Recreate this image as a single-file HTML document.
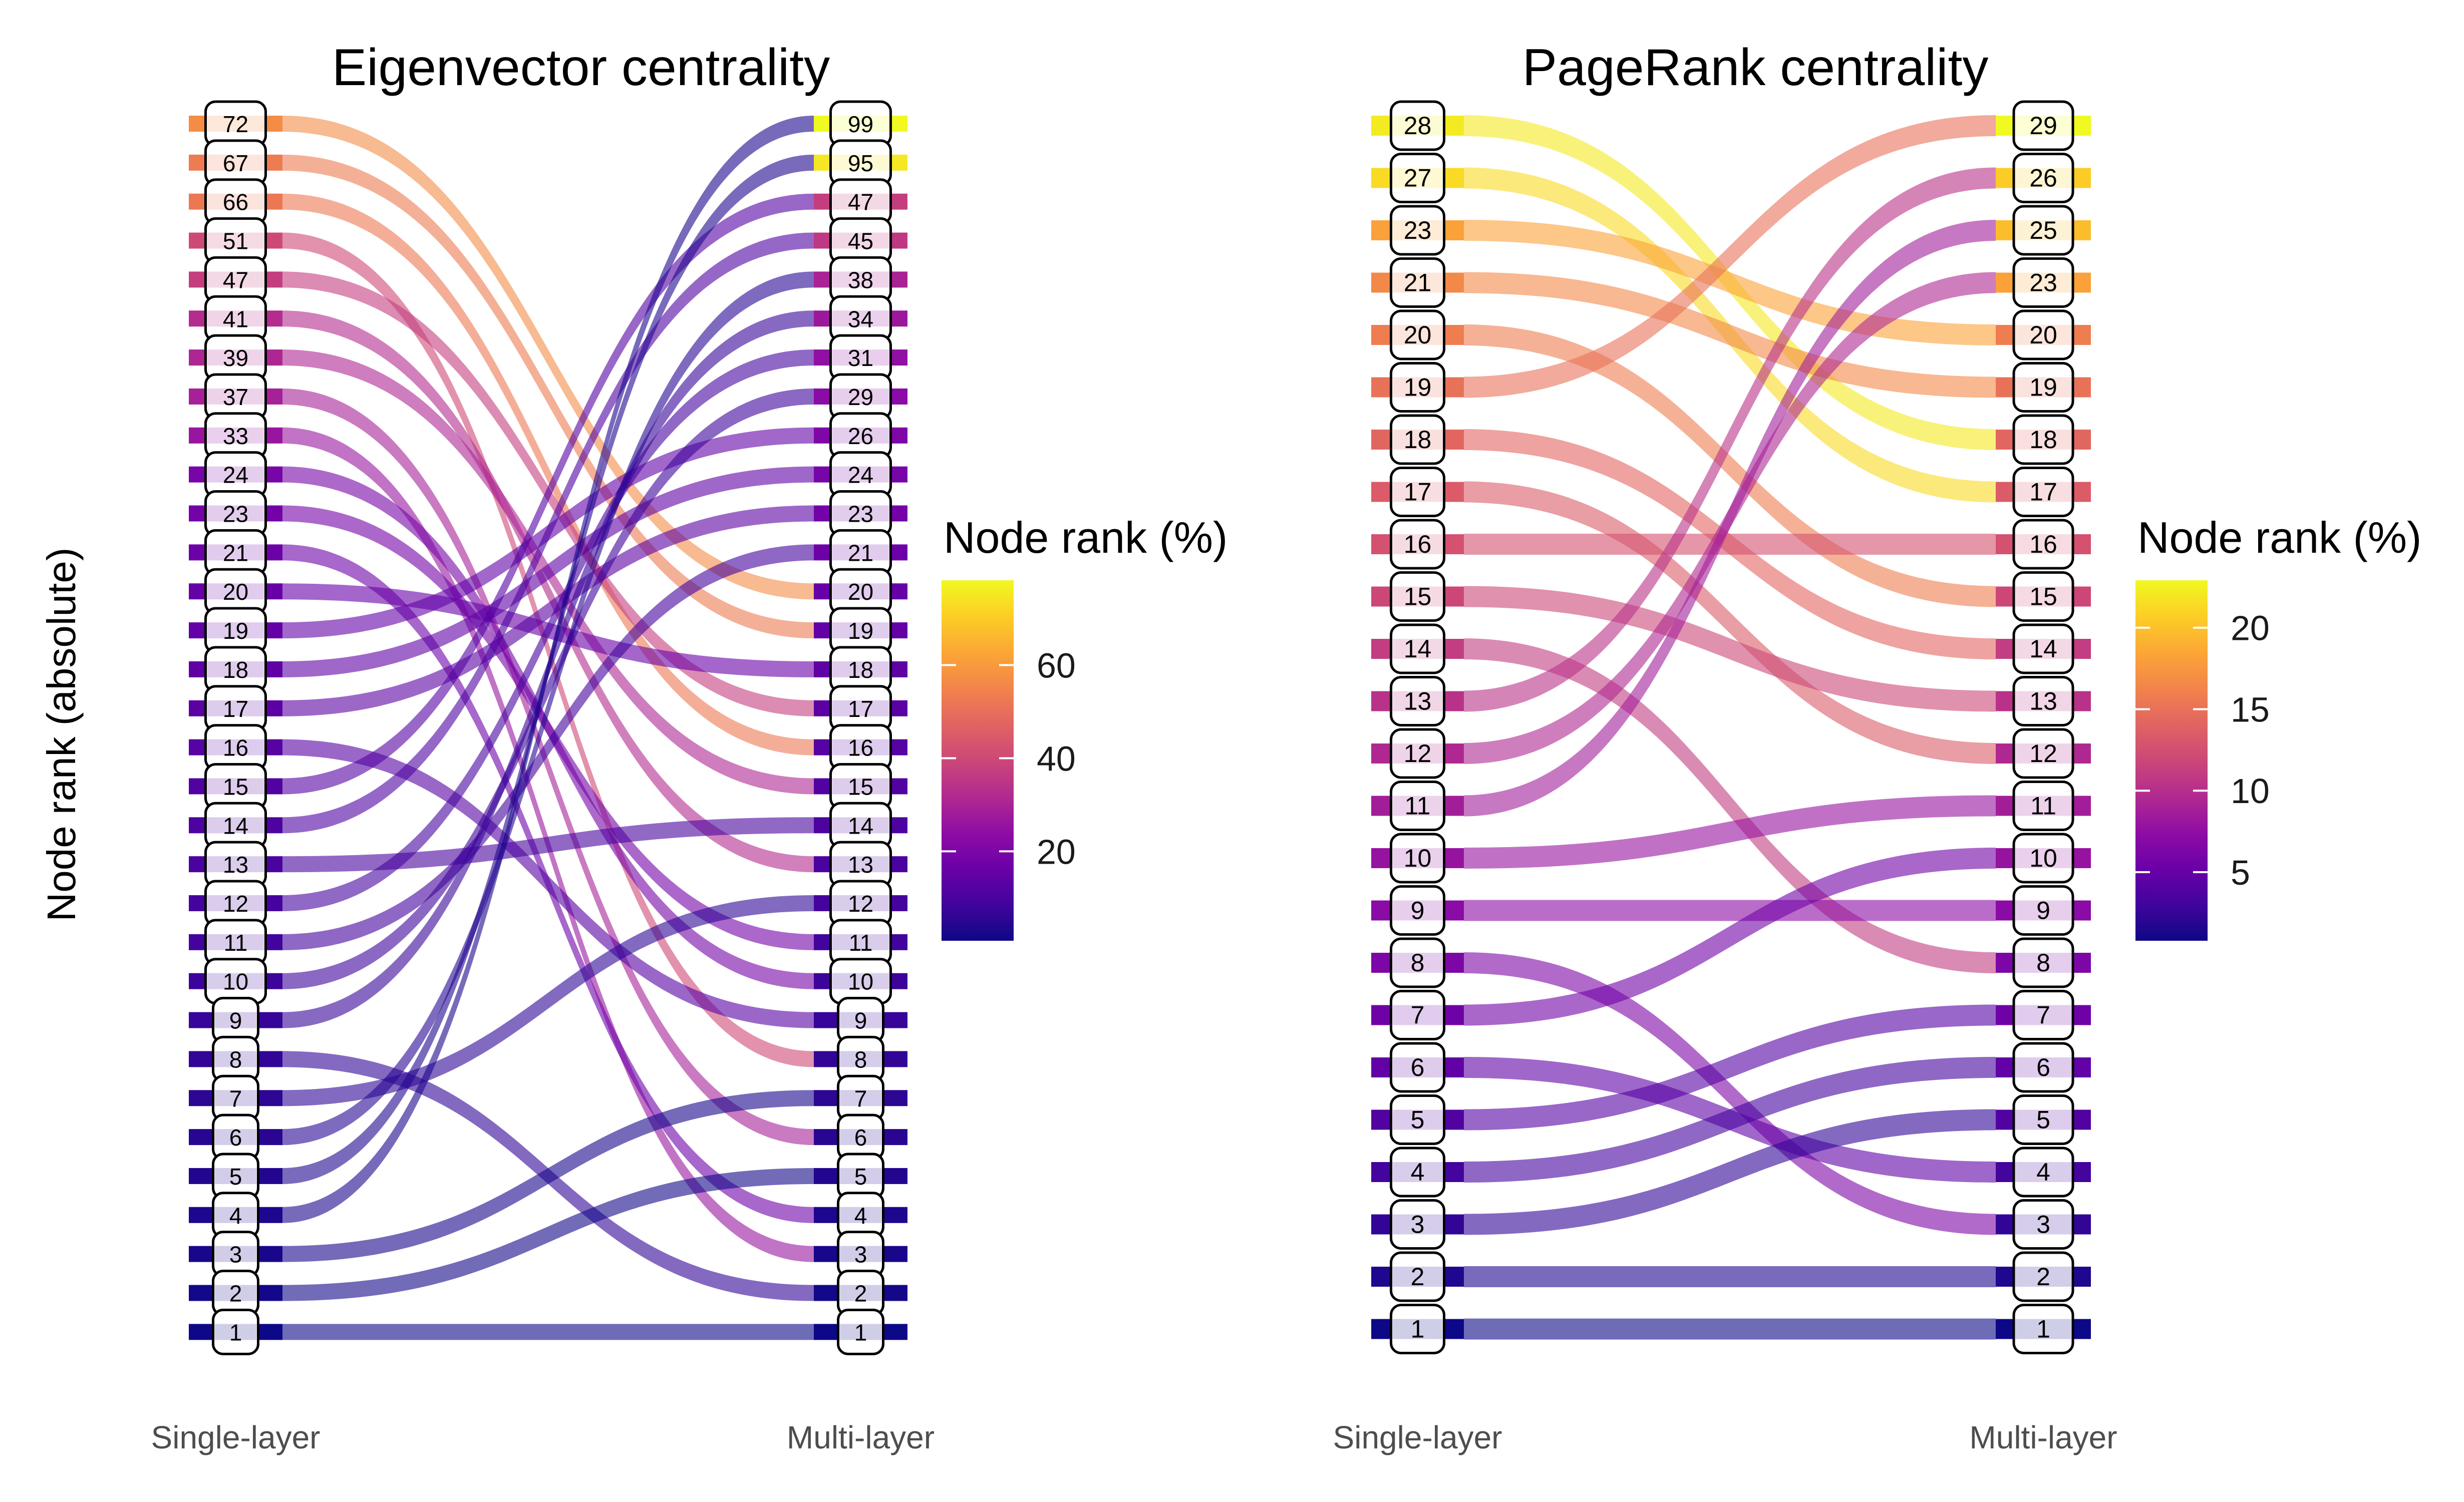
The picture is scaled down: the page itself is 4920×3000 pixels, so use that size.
<!DOCTYPE html>
<html>
<head>
<meta charset="utf-8">
<style>
  html,body{margin:0;padding:0;background:#fff;}
  svg{display:block;font-family:"Liberation Sans",Arial,sans-serif;}
</style>
</head>
<body>
<svg id="chart" xmlns="http://www.w3.org/2000/svg" width="4920" height="3000" viewBox="0 0 4920 3000">
  <defs>
    <linearGradient id="plasmaGrad" x1="0" y1="1" x2="0" y2="0">
      <stop offset="0" stop-color="#0d0887"/>
      <stop offset="0.1" stop-color="#41049d"/>
      <stop offset="0.2" stop-color="#6a00a8"/>
      <stop offset="0.3" stop-color="#8f0da4"/>
      <stop offset="0.4" stop-color="#b12a90"/>
      <stop offset="0.5" stop-color="#cc4778"/>
      <stop offset="0.6" stop-color="#e16462"/>
      <stop offset="0.7" stop-color="#f2844b"/>
      <stop offset="0.8" stop-color="#fca636"/>
      <stop offset="0.9" stop-color="#fcce25"/>
      <stop offset="1" stop-color="#f0f921"/>
    </linearGradient>
  </defs>
  <text x="0" y="0" transform="translate(150,1467) rotate(-90)" text-anchor="middle" font-size="80" fill="#000">Node rank (absolute)</text>
  <g id="left"></g>
  <g id="right"></g>
</svg>
<script>
// ---------- Eigenvector panel data ----------
const eigSingle = [72,67,66,51,47,41,39,37,33,24,23,21,20,19,18,17,16,15,14,13,12,11,10,9,8,7,6,5,4,3,2,1];
const eigMulti  = [99,95,47,45,38,34,31,29,26,24,23,21,20,19,18,17,16,15,14,13,12,11,10,9,8,7,6,5,4,3,2,1];
// flow: single-layer rank -> multi-layer rank
const eigFrom = [72,67,66,51,47,41,39,37,33,24,23,21,20,19,18,17,16,15,14,13,12,11,10,9,8,7,6,5,4,3,2,1];
const eigTo   = [20,19,16, 8,17,13,15, 6, 3,10,11, 4,18,26,24,23, 9,47,45,14,31,21,29,34, 2,12,38,95,99, 7, 5,1];
const eigTicks = [20,40,60];

// ---------- PageRank panel data ----------
const prSingle = [28,27,23,21,20,19,18,17,16,15,14,13,12,11,10,9,8,7,6,5,4,3,2,1];
const prMulti  = [29,26,25,23,20,19,18,17,16,15,14,13,12,11,10,9,8,7,6,5,4,3,2,1];
const prFrom = [28,27,23,21,20,19,18,17,16,15,14,13,12,11,10,9,8,7,6,5,4,3,2,1];
const prTo   = [18,17,20,19,15,29,14,12,16,13, 8,26,23,25,11,9,3,10,4,7,6,5,2,1];
const prTicks = [5,10,15,20];

const PCT = 0.79; // rank -> node rank (%) factor

const NS = "http://www.w3.org/2000/svg";
const stops = ["#0d0887","#41049d","#6a00a8","#8f0da4","#b12a90","#cc4778","#e16462","#f2844b","#fca636","#fcce25","#f0f921"];
function hex2rgb(h){return [parseInt(h.substr(1,2),16),parseInt(h.substr(3,2),16),parseInt(h.substr(5,2),16)];}
function plasma(t){
  t=Math.max(0,Math.min(1,t));
  const p=t*10, i=Math.min(9,Math.floor(p)), f=p-i;
  const a=hex2rgb(stops[i]), b=hex2rgb(stops[i+1]);
  return "rgb("+a.map((v,k)=>Math.round(v+(b[k]-v)*f)).join(",")+")";
}
function mk(tag, attrs, parent){
  const e=document.createElementNS(NS,tag);
  for(const k in attrs) e.setAttribute(k,attrs[k]);
  parent.appendChild(e); return e;
}

function drawPanel(cfg){
  const g=document.getElementById(cfg.id);
  const all=cfg.single.concat(cfg.multi);
  const vmin=Math.min(...all)*PCT, vmax=Math.max(...all)*PCT;
  const col=r=>plasma((r*PCT-vmin)/(vmax-vmin));
  const yS=i=>cfg.top+i*cfg.step;
  const yOfS=r=>yS(cfg.single.indexOf(r));
  const yOfM=r=>yS(cfg.multi.indexOf(r));

  const t=mk("text",{x:cfg.titleX,y:170,"text-anchor":"middle","font-size":104,fill:"#000"},g);
  
  
  t.textContent=cfg.title;

  cfg.single.forEach((r,i)=>{
    const b=mk("rect",{x:cfg.sx0,y:yS(i)-cfg.bh/2,width:cfg.sx1-cfg.sx0,height:cfg.bh,fill:col(r)},g);
    
    
  });
  cfg.multi.forEach((r,i)=>{
    const b=mk("rect",{x:cfg.mx0,y:yS(i)-cfg.bh/2,width:cfg.mx1-cfg.mx0,height:cfg.bh,fill:col(r)},g);
    
    
  });

  const x0=cfg.sx1, x1=cfg.mx0, xm=(x0+x1)/2, h=cfg.fh/2;
  cfg.from.forEach((s,k)=>{
    const y0=yOfS(s), y1=yOfM(cfg.to[k]);
    const d=`M${x0},${y0-h} C${xm},${y0-h} ${xm},${y1-h} ${x1},${y1-h} L${x1},${y1+h} C${xm},${y1+h} ${xm},${y0+h} ${x0},${y0+h} Z`;
    const p=mk("path",{d:d,fill:col(s),"fill-opacity":0.6},g);
    
    
  });

  function box(r,i,cx,wide,narrow){
    const y=yS(i), w=(String(r).length>1?wide:narrow);
    const bx=mk("rect",{x:cx-w/2,y:y-cfg.boxH/2,width:w,height:cfg.boxH,rx:20,ry:20,fill:"#fff",stroke:"#000","stroke-width":5},g);
    
    
    const band=mk("rect",{x:cx-w/2+3,y:y-cfg.bh/2,width:w-6,height:cfg.bh,fill:col(r),"fill-opacity":0.2},g);
    
    
    const tx=mk("text",{x:cx,y:y+17,"text-anchor":"middle","font-size":cfg.fs,fill:"#000"},g);
    
    
    tx.textContent=r;
  }
  cfg.single.forEach((r,i)=>box(r,i,(cfg.sx0+cfg.sx1)/2,cfg.sw2,cfg.sw1));
  cfg.multi.forEach((r,i)=>box(r,i,(cfg.mx0+cfg.mx1)/2,cfg.mw2,cfg.mw1));

  const l1=mk("text",{x:(cfg.sx0+cfg.sx1)/2,y:2905-12,"text-anchor":"middle","font-size":64,fill:"#4d4d4d"},g);
  
  
  l1.textContent="Single-layer";
  const l2=mk("text",{x:(cfg.mx0+cfg.mx1)/2,y:2905-12,"text-anchor":"middle","font-size":64,fill:"#4d4d4d"},g);
  
  
  l2.textContent="Multi-layer";

  const cbTop=1159, cbBot=1879, cbX=cfg.cbX, cbW=144;
  const lt=mk("text",{x:cbX+4,y:1104,"font-size":88,fill:"#000"},g);
  
  
  lt.textContent="Node rank (%)";
  const cb=mk("rect",{x:cbX,y:cbTop,width:cbW,height:cbBot-cbTop,fill:"url(#plasmaGrad)"},g);
  
  
  const cy=v=>cbBot-(v-vmin)/(vmax-vmin)*(cbBot-cbTop);
  cfg.ticks.forEach(v=>{
    const y=cy(v);
    const a=mk("line",{x1:cbX,x2:cbX+29,y1:y,y2:y,stroke:"#fff","stroke-width":4},g);
    
    
    const b=mk("line",{x1:cbX+cbW-29,x2:cbX+cbW,y1:y,y2:y,stroke:"#fff","stroke-width":4},g);
    
    
    const tl=mk("text",{x:cbX+190,y:y+25,"font-size":70,fill:"#1a1a1a"},g);
    
    
    tl.textContent=v;
  });
}

drawPanel({id:"left",title:"Eigenvector centrality",titleX:1160,single:eigSingle,multi:eigMulti,from:eigFrom,to:eigTo,ticks:eigTicks,
  top:247,step:77.85,sx0:377,sx1:564,mx0:1625,mx1:1812,bh:32,fh:32,boxH:88,sw2:120,sw1:90,mw2:120,mw1:90,fs:46,cbX:1880});
drawPanel({id:"right",title:"PageRank centrality",titleX:3505,single:prSingle,multi:prMulti,from:prFrom,to:prTo,ticks:prTicks,
  top:251,step:104.5,sx0:2738,sx1:2923,mx0:3985,mx1:4175,bh:40,fh:42,boxH:96,sw2:106,sw1:106,mw2:118,mw1:118,fs:50,cbX:4264});
</script>
</body>
</html>
